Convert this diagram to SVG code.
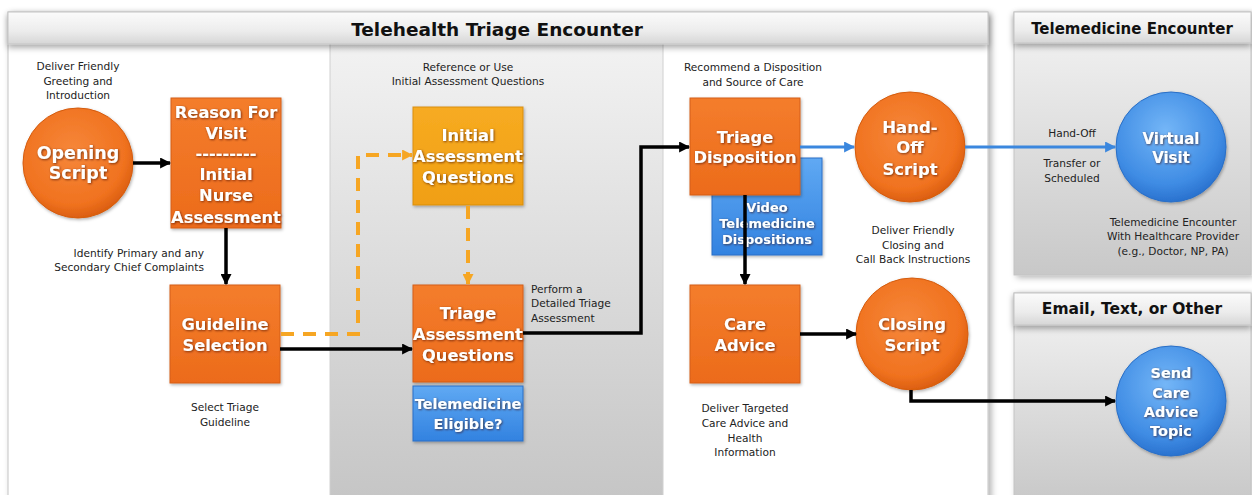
<svg xmlns="http://www.w3.org/2000/svg" width="1252" height="495" viewBox="0 0 1252 495">
  <defs>
    <linearGradient id="gHeader" x1="0" y1="0" x2="0" y2="1">
      <stop offset="0" stop-color="#fbfbfb"/>
      <stop offset="0.6" stop-color="#ececec"/>
      <stop offset="1" stop-color="#d6d6d6"/>
    </linearGradient>
    <linearGradient id="gColumn" x1="0" y1="0" x2="0" y2="1">
      <stop offset="0" stop-color="#f2f2f2"/>
      <stop offset="1" stop-color="#c6c6c6"/>
    </linearGradient>
    <linearGradient id="gSide" x1="0" y1="0" x2="0" y2="1">
      <stop offset="0" stop-color="#f4f4f4"/>
      <stop offset="1" stop-color="#c8c8c8"/>
    </linearGradient>
    <linearGradient id="gOrangeBox" x1="0" y1="0" x2="0" y2="1">
      <stop offset="0" stop-color="#f47d2c"/>
      <stop offset="1" stop-color="#ec6b1b"/>
    </linearGradient>
    <linearGradient id="gYellowBox" x1="0" y1="0" x2="0" y2="1">
      <stop offset="0" stop-color="#f7ab22"/>
      <stop offset="1" stop-color="#f09f12"/>
    </linearGradient>
    <linearGradient id="gBlueBox" x1="0" y1="0" x2="0" y2="1">
      <stop offset="0" stop-color="#60a9f3"/>
      <stop offset="1" stop-color="#3282e0"/>
    </linearGradient>
    <radialGradient id="gOrangeCircle" cx="0.45" cy="0.4" r="0.6">
      <stop offset="0" stop-color="#f6873a"/>
      <stop offset="0.8" stop-color="#f0721f"/>
      <stop offset="1" stop-color="#dc5f10"/>
    </radialGradient>
    <radialGradient id="gBlueCircle" cx="0.45" cy="0.35" r="0.65">
      <stop offset="0" stop-color="#74b6f7"/>
      <stop offset="0.75" stop-color="#3f8ce4"/>
      <stop offset="1" stop-color="#2a72cf"/>
    </radialGradient>
    <filter id="fPanel" x="-5%" y="-5%" width="115%" height="115%">
      <feDropShadow dx="3" dy="2" stdDeviation="3" flood-color="#000" flood-opacity="0.3"/>
    </filter>
    <filter id="fHeader" x="-5%" y="-30%" width="110%" height="180%">
      <feDropShadow dx="0" dy="3" stdDeviation="3" flood-color="#000" flood-opacity="0.35"/>
    </filter>
    <filter id="fNode" x="-10%" y="-10%" width="130%" height="130%">
      <feDropShadow dx="1" dy="1.5" stdDeviation="1.5" flood-color="#000" flood-opacity="0.3"/>
    </filter>
    <filter id="fText" x="-10%" y="-20%" width="120%" height="150%">
      <feDropShadow dx="0.8" dy="0.8" stdDeviation="0.9" flood-color="#3a1800" flood-opacity="0.7"/>
    </filter>
    <marker id="arrBlack" viewBox="0 0 10 10" refX="9" refY="5" markerWidth="11" markerHeight="11" markerUnits="userSpaceOnUse" orient="auto">
      <path d="M0,0 L10,5 L0,10 z" fill="#000"/>
    </marker>
    <marker id="arrBlue" viewBox="0 0 10 10" refX="9" refY="5" markerWidth="11" markerHeight="11" markerUnits="userSpaceOnUse" orient="auto">
      <path d="M0,0 L10,5 L0,10 z" fill="#3b87de"/>
    </marker>
    <marker id="arrOrange" viewBox="0 0 10 10" refX="9" refY="5" markerWidth="11" markerHeight="11" markerUnits="userSpaceOnUse" orient="auto">
      <path d="M0,0 L10,5 L0,10 z" fill="#f6a623"/>
    </marker>
  </defs>
  <style>
    .note { font-family: "DejaVu Sans", Verdana, sans-serif; font-size: 10.6px; fill: #222; text-anchor: middle; }
    .title { font-family: "DejaVu Sans", Verdana, sans-serif; font-weight: bold; fill: #111; text-anchor: middle; }
    .lbl { font-family: "DejaVu Sans", Verdana, sans-serif; font-weight: bold; fill: #fff; text-anchor: middle; filter: url(#fText); }
    .obox { fill: url(#gOrangeBox); stroke: #d45f18; stroke-width: 1; filter: url(#fNode); }
    .ybox { fill: url(#gYellowBox); stroke: #d98f0e; stroke-width: 1; filter: url(#fNode); }
    .bbox { fill: url(#gBlueBox); stroke: #2a6fc6; stroke-width: 1; filter: url(#fNode); }
    .ocirc { fill: url(#gOrangeCircle); stroke: #d45c10; stroke-width: 1; filter: url(#fNode); }
    .bcirc { fill: url(#gBlueCircle); stroke: #2a6fc6; stroke-width: 1; filter: url(#fNode); }
    .solid { fill: none; stroke: #000; stroke-width: 3.5; marker-end: url(#arrBlack); }
    .blue { fill: none; stroke: #3b87de; stroke-width: 3; marker-end: url(#arrBlue); }
    .dash { fill: none; stroke: #f6a623; stroke-width: 4; stroke-dasharray: 13 9; marker-end: url(#arrOrange); }
  </style>

  <rect width="1252" height="495" fill="#fff"/>

  <!-- Main swimlane: Telehealth Triage Encounter -->
  <g id="lane-triage">
    <rect x="8" y="12" width="980" height="495" fill="#fff" stroke="#c4c4c4" stroke-width="1" filter="url(#fPanel)"/>
    <rect x="330" y="44" width="333" height="451" fill="url(#gColumn)"/>
    <line x1="330" y1="44" x2="330" y2="495" stroke="#d0d0d0" stroke-width="1"/>
    <line x1="663" y1="44" x2="663" y2="495" stroke="#d0d0d0" stroke-width="1"/>
    <rect x="8" y="12" width="980" height="32" fill="url(#gHeader)" stroke="#c4c4c4" stroke-width="1" filter="url(#fHeader)"/>
    <text class="title" x="497" y="35.5" font-size="18.5">Telehealth Triage Encounter</text>
  </g>

  <!-- Side lane: Telemedicine Encounter -->
  <g id="lane-telemedicine">
    <rect x="1014" y="12" width="237" height="263" fill="url(#gSide)" stroke="#c4c4c4" stroke-width="1" filter="url(#fPanel)"/>
    <rect x="1014" y="12" width="237" height="31" fill="url(#gHeader)" stroke="#c4c4c4" stroke-width="1" filter="url(#fHeader)"/>
    <text class="title" x="1132" y="33.5" font-size="15">Telemedicine Encounter</text>
  </g>

  <!-- Side lane: Email, Text, or Other -->
  <g id="lane-email">
    <rect x="1014" y="293" width="237" height="210" fill="url(#gSide)" stroke="#c4c4c4" stroke-width="1" filter="url(#fPanel)"/>
    <rect x="1014" y="293" width="237" height="32" fill="url(#gHeader)" stroke="#c4c4c4" stroke-width="1" filter="url(#fHeader)"/>
    <text class="title" x="1132" y="314" font-size="15.5">Email, Text, or Other</text>
  </g>

  <!-- Annotations -->
  <g id="notes">
    <text class="note" x="78" y="70">Deliver Friendly</text>
    <text class="note" x="78" y="84.5">Greeting and</text>
    <text class="note" x="78" y="99">Introduction</text>

    <text class="note" x="204" y="257" text-anchor="end" style="text-anchor:end">Identify Primary and any</text>
    <text class="note" x="204" y="271" style="text-anchor:end">Secondary Chief Complaints</text>

    <text class="note" x="225" y="411">Select Triage</text>
    <text class="note" x="225" y="426">Guideline</text>

    <text class="note" x="468" y="71">Reference or Use</text>
    <text class="note" x="468" y="85">Initial Assessment Questions</text>

    <text class="note" x="531" y="293" style="text-anchor:start">Perform a</text>
    <text class="note" x="531" y="307" style="text-anchor:start">Detailed Triage</text>
    <text class="note" x="531" y="322" style="text-anchor:start">Assessment</text>

    <text class="note" x="753" y="71">Recommend a Disposition</text>
    <text class="note" x="753" y="86">and Source of Care</text>

    <text class="note" x="913" y="234">Deliver Friendly</text>
    <text class="note" x="913" y="249">Closing and</text>
    <text class="note" x="913" y="263">Call Back Instructions</text>

    <text class="note" x="745" y="412">Deliver Targeted</text>
    <text class="note" x="745" y="427">Care Advice and</text>
    <text class="note" x="745" y="442">Health</text>
    <text class="note" x="745" y="456">Information</text>

    <text class="note" x="1072" y="137">Hand-Off</text>
    <text class="note" x="1072" y="167">Transfer or</text>
    <text class="note" x="1072" y="182">Scheduled</text>

    <text class="note" x="1173" y="226">Telemedicine Encounter</text>
    <text class="note" x="1173" y="240">With Healthcare Provider</text>
    <text class="note" x="1173" y="255">(e.g., Doctor, NP, PA)</text>
  </g>

  <!-- Nodes -->
  <g id="opening-script">
    <circle class="ocirc" cx="78" cy="163" r="55"/>
    <text class="lbl" x="78" y="158.5" font-size="17.5">Opening</text>
    <text class="lbl" x="78" y="179" font-size="17.5">Script</text>
  </g>

  <g id="reason-for-visit">
    <rect class="obox" x="171" y="98" width="110" height="130"/>
    <g font-size="16.3">
      <text class="lbl" x="226" y="118">Reason For</text>
      <text class="lbl" x="226" y="139">Visit</text>
      <text class="lbl" x="226" y="159">---------</text>
      <text class="lbl" x="226" y="180">Initial</text>
      <text class="lbl" x="226" y="201">Nurse</text>
      <text class="lbl" x="226" y="223">Assessment</text>
    </g>
  </g>

  <g id="guideline-selection">
    <rect class="obox" x="170" y="285" width="110" height="98"/>
    <text class="lbl" x="225" y="330" font-size="16.3">Guideline</text>
    <text class="lbl" x="225" y="351" font-size="16.3">Selection</text>
  </g>

  <g id="initial-assessment">
    <rect class="ybox" x="413" y="107" width="110" height="98"/>
    <text class="lbl" x="468" y="141" font-size="16.3">Initial</text>
    <text class="lbl" x="468" y="162" font-size="16.3">Assessment</text>
    <text class="lbl" x="468" y="183" font-size="16.3">Questions</text>
  </g>

  <g id="triage-assessment">
    <rect class="obox" x="413" y="285" width="110" height="97"/>
    <text class="lbl" x="468" y="319" font-size="16.3">Triage</text>
    <text class="lbl" x="468" y="340" font-size="16.3">Assessment</text>
    <text class="lbl" x="468" y="361" font-size="16.3">Questions</text>
  </g>

  <g id="telemedicine-eligible">
    <rect class="bbox" x="413" y="386" width="110" height="55"/>
    <text class="lbl" x="468" y="409" font-size="14.5">Telemedicine</text>
    <text class="lbl" x="468" y="428.5" font-size="14.5">Eligible?</text>
  </g>

  <g id="video-dispositions">
    <rect class="bbox" x="712" y="158" width="110" height="97"/>
    <text class="lbl" x="767" y="212" font-size="13">Video</text>
    <text class="lbl" x="767" y="228" font-size="13">Telemedicine</text>
    <text class="lbl" x="767" y="244" font-size="13">Dispositions</text>
  </g>

  <g id="triage-disposition">
    <rect class="obox" x="690" y="98" width="110" height="97"/>
    <text class="lbl" x="745" y="143" font-size="16.3">Triage</text>
    <text class="lbl" x="745" y="163" font-size="16.3">Disposition</text>
  </g>

  <g id="care-advice">
    <rect class="obox" x="690" y="285" width="110" height="98"/>
    <text class="lbl" x="745" y="330" font-size="16.3">Care</text>
    <text class="lbl" x="745" y="351" font-size="16.3">Advice</text>
  </g>

  <g id="hand-off-script">
    <circle class="ocirc" cx="910" cy="147" r="55"/>
    <text class="lbl" x="910" y="133" font-size="16.5">Hand-</text>
    <text class="lbl" x="910" y="153" font-size="16.5">Off</text>
    <text class="lbl" x="910" y="175" font-size="16.5">Script</text>
  </g>

  <g id="closing-script">
    <circle class="ocirc" cx="912" cy="334" r="56"/>
    <text class="lbl" x="912" y="330" font-size="16.5">Closing</text>
    <text class="lbl" x="912" y="351" font-size="16.5">Script</text>
  </g>

  <g id="virtual-visit">
    <circle class="bcirc" cx="1171" cy="147" r="55"/>
    <text class="lbl" x="1171" y="143.5" font-size="15">Virtual</text>
    <text class="lbl" x="1171" y="162.5" font-size="15">Visit</text>
  </g>

  <g id="send-care-advice">
    <circle class="bcirc" cx="1171" cy="401" r="55"/>
    <text class="lbl" x="1171" y="378" font-size="14.5">Send</text>
    <text class="lbl" x="1171" y="398" font-size="14.5">Care</text>
    <text class="lbl" x="1171" y="417" font-size="14.5">Advice</text>
    <text class="lbl" x="1171" y="436" font-size="14.5">Topic</text>
  </g>

  <!-- Connectors -->
  <g id="connectors">
    <path class="solid" d="M133,163 H170"/>
    <path class="solid" d="M226,228 V284"/>
    <path class="solid" d="M280,349 H412"/>
    <path class="dash" d="M281,334 H358 V155 H412"/>
    <path class="dash" d="M468,206 V284"/>
    <path class="solid" d="M523,333 H641 V147 H689"/>
    <path class="solid" d="M745,195 V284"/>
    <path class="blue" d="M800,147 H854"/>
    <path class="blue" d="M965,147 H1115"/>
    <path class="solid" d="M800,334 H856"/>
    <path class="solid" d="M911,390 V401 H1115"/>
  </g>
</svg>
